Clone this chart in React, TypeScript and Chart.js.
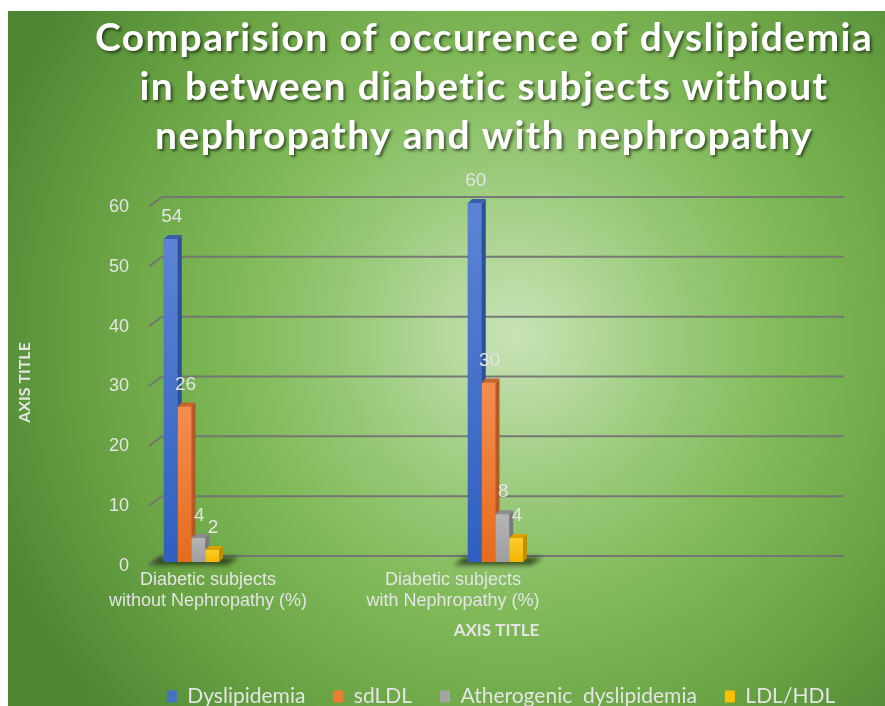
import React, { useEffect, useRef } from 'react';
import { Chart, registerables } from 'chart.js';

Chart.register(...registerables);

// ---- data ----
const TITLE_LINES = [
  'Comparision of occurence of dyslipidemia',
  'in between diabetic subjects without',
  'nephropathy and with nephropathy',
];
const CATEGORY_LABELS = [
  ['Diabetic subjects', 'without Nephropathy (%)'],
  ['Diabetic subjects', 'with Nephropathy (%)'],
];
const SERIES_NAMES = ['Dyslipidemia', 'sdLDL', 'Atherogenic  dyslipidemia', 'LDL/HDL'];
const DYSLIPIDEMIA = [54, 60];
const SDLDL = [26, 30];
const ATHEROGENIC = [4, 8];
const LDL_HDL = [2, 4];
const Y_TICKS = [0, 10, 20, 30, 40, 50, 60];
const X_AXIS_TITLE = 'AXIS TITLE';
const Y_AXIS_TITLE = 'AXIS TITLE';

// ---- styles ----
const BASE_COLORS = ['#4472C4', '#ED7D31', '#A5A5A5', '#FFC000'];
const FRONT_TOP = ['#5d84d4', '#f38d52', '#b5b5b5', '#ffcb2e'];
const FRONT_BOTTOM = ['#2f5fbf', '#e66c1c', '#9e9e9e', '#f2b600'];
const SIDE_COLORS = ['#2d4f98', '#b45a22', '#7a7a7a', '#bd9000'];
const TOP_COLORS = ['#3a5ea8', '#c4652c', '#8c8c8c', '#d6a300'];
const LABEL_COLOR = '#e4e4e4';

const CANVAS_W = 986;
const CANVAS_H = 706;
const DEPTH = 4;

const backgroundPlugin = {
  id: 'bgGradient',
  beforeDraw(chart: any) {
    const { ctx, width, height } = chart;
    ctx.save();
    const g = ctx.createRadialGradient(507, 324, 0, 507, 324, 560);
    g.addColorStop(0, '#c8e3b6');
    g.addColorStop(0.12, '#b6d99e');
    g.addColorStop(0.3, '#99c979');
    g.addColorStop(0.5, '#80b958');
    g.addColorStop(0.7, '#6da747');
    g.addColorStop(0.85, '#5e983d');
    g.addColorStop(1, '#4e8634');
    ctx.fillStyle = g;
    ctx.fillRect(0, 0, width, height);
    ctx.restore();
    const tb = chart.titleBlock;
    if (tb && !tb.__patched) {
      tb.__patched = true;
      const orig = tb.draw.bind(tb);
      tb.draw = (area: any) => {
        const c = chart.ctx;
        c.save();
        c.translate(-17, 0);
        c.letterSpacing = '1.4px';
        c.shadowColor = 'rgba(0,0,0,0.55)';
        c.shadowOffsetX = 2;
        c.shadowOffsetY = 2;
        c.shadowBlur = 3;
        orig(area);
        c.restore();
      };
    }
  },
};

const gridPlugin = {
  id: 'grid3d',
  beforeDatasetsDraw(chart: any) {
    const { ctx, chartArea } = chart;
    const y = chart.scales.y;
    const left = chartArea.left;
    const right = chartArea.right;
    ctx.save();
    ctx.strokeStyle = 'rgba(115,115,115,0.95)';
    ctx.lineWidth = 2;
    Y_TICKS.forEach((v) => {
      const yf = y.getPixelForValue(v);
      ctx.beginPath();
      ctx.moveTo(left, yf + 3.5);
      ctx.lineTo(left + 13, yf - 6);
      ctx.lineTo(right, yf - 6);
      ctx.stroke();
    });
    const metas = chart.getSortedVisibleDatasetMetas();
    const n = CATEGORY_LABELS.length;
    for (let i = 0; i < n; i++) {
      const first = metas[0].data[i].getProps(['x', 'width', 'base'], true);
      const last = metas[metas.length - 1].data[i].getProps(['x', 'width', 'base'], true);
      const x0 = first.x - first.width / 2;
      const x1 = last.x + last.width / 2;
      const b = first.base;
      ctx.save();
      ctx.filter = 'blur(2.5px)';
      ctx.fillStyle = 'rgba(25,40,15,0.75)';
      ctx.beginPath();
      ctx.moveTo(x0 - 14, b + 3);
      ctx.lineTo(x1 + 8, b + 3);
      ctx.lineTo(x1 + 20, b - 5);
      ctx.lineTo(x0 - 4, b - 5);
      ctx.closePath();
      ctx.fill();
      ctx.restore();
    }
    ctx.restore();
  },
};

const bar3dPlugin = {
  id: 'bar3d',
  afterDatasetsDraw(chart: any) {
    const { ctx } = chart;
    const metas = chart.getSortedVisibleDatasetMetas();
    const n = CATEGORY_LABELS.length;
    ctx.save();
    for (let i = 0; i < n; i++) {
      metas.forEach((meta: any) => {
        const d = meta.index;
        const bar = meta.data[i].getProps(['x', 'y', 'base', 'width'], true);
        const x0 = bar.x - bar.width / 2;
        const x1 = bar.x + bar.width / 2;
        const top = bar.y;
        const base = bar.base;
        const g = ctx.createLinearGradient(0, top, 0, base);
        g.addColorStop(0, FRONT_TOP[d]);
        g.addColorStop(1, FRONT_BOTTOM[d]);
        ctx.fillStyle = g;
        ctx.fillRect(x0, top, x1 - x0, base - top);
        ctx.fillStyle = SIDE_COLORS[d];
        ctx.beginPath();
        ctx.moveTo(x1, top);
        ctx.lineTo(x1 + DEPTH, top - DEPTH);
        ctx.lineTo(x1 + DEPTH, base - DEPTH);
        ctx.lineTo(x1, base);
        ctx.closePath();
        ctx.fill();
        ctx.fillStyle = TOP_COLORS[d];
        ctx.beginPath();
        ctx.moveTo(x0, top);
        ctx.lineTo(x1, top);
        ctx.lineTo(x1 + DEPTH, top - DEPTH);
        ctx.lineTo(x0 + DEPTH, top - DEPTH);
        ctx.closePath();
        ctx.fill();
      });
    }
    ctx.fillStyle = LABEL_COLOR;
    ctx.font = '19px "Liberation Sans", Arial, sans-serif';
    ctx.textAlign = 'center';
    ctx.textBaseline = 'middle';
    metas.forEach((meta: any) => {
      const ds = chart.data.datasets[meta.index];
      meta.data.forEach((el: any, i: number) => {
        const p = el.getProps(['x', 'y'], true);
        ctx.fillText(String(ds.data[i]), p.x + 1, p.y - 22);
      });
    });
    ctx.restore();
  },
};

const SERIES = [DYSLIPIDEMIA, SDLDL, ATHEROGENIC, LDL_HDL];

export default function App() {
  const ref = useRef<HTMLCanvasElement>(null);
  useEffect(() => {
    const canvas = ref.current as HTMLCanvasElement;
    const chart = new Chart(canvas, {
      type: 'bar',
      data: {
        labels: CATEGORY_LABELS.map((_, i) => i),
        datasets: SERIES.map((values, d) => ({
          label: SERIES_NAMES[d],
          data: values,
          backgroundColor: BASE_COLORS[d],
          borderWidth: 0,
          barThickness: 13.75,
        })),
      },
      options: {
        responsive: false,
        animation: false,
        events: [],
        layout: { padding: { left: 0, right: 0, top: 0, bottom: 0 } },
        scales: {
          x: {
            type: 'linear',
            display: false,
            offset: false,
            min: -0.1398,
            max: 2.1464,
          },
          x2: {
            type: 'linear',
            position: 'bottom',
            offset: false,
            min: -0.2408,
            max: 2.5959,
            afterBuildTicks: (axis: any) => {
              axis.ticks = CATEGORY_LABELS.map((_, i) => ({ value: i }));
            },
            grid: { display: false, drawTicks: false, offset: false },
            border: { display: false },
            ticks: {
              autoSkip: false,
              maxRotation: 0,
              minRotation: 0,
              padding: 7,
              color: LABEL_COLOR,
              font: { family: '"Liberation Sans", Arial, sans-serif', size: 18, lineHeight: 1.2 },
              callback: (value: any) => CATEGORY_LABELS[Math.round(Number(value))] as any,
            },
            title: {
              display: true,
              text: X_AXIS_TITLE,
              color: LABEL_COLOR,
              font: { family: 'Lato', weight: 'bold', size: 17, lineHeight: 1.2 },
              padding: { top: 1.6, bottom: 16.8 },
            },
          },
          y: {
            type: 'linear',
            position: 'left',
            min: 0,
            max: 60,
            afterBuildTicks: (axis: any) => {
              axis.ticks = Y_TICKS.map((v) => ({ value: v }));
            },
            afterFit: (axis: any) => {
              axis.width = 141;
            },
            grid: { display: false, drawTicks: false },
            border: { display: false },
            ticks: {
              padding: 20,
              labelOffset: 4,
              color: LABEL_COLOR,
              font: { family: '"Liberation Sans", Arial, sans-serif', size: 18 },
            },
            title: {
              display: true,
              text: Y_AXIS_TITLE,
              color: LABEL_COLOR,
              font: { family: 'Lato', weight: 'bold', size: 16, lineHeight: 1.2 },
              padding: { top: 7, bottom: 0 },
            },
          },
          yRight: {
            type: 'linear',
            position: 'right',
            display: true,
            grid: { display: false, drawTicks: false },
            border: { display: false },
            ticks: { display: false },
            afterFit: (axis: any) => {
              axis.width = CANVAS_W - 836;
            },
          },
        },
        plugins: {
          tooltip: { enabled: false },
          title: {
            display: true,
            text: TITLE_LINES,
            color: '#ffffff',
            font: { family: 'Lato', weight: 'bold', size: 39, lineHeight: '49px' },
            padding: { top: 3, bottom: 42 },
          },
          legend: {
            display: true,
            position: 'bottom',
            labels: {
              boxWidth: 10,
              boxHeight: 12,
              padding: 28,
              color: LABEL_COLOR,
              font: { family: 'Lato', size: 21 },
            },
          },
        },
      } as any,
      plugins: [backgroundPlugin, gridPlugin, bar3dPlugin],
    });
    return () => chart.destroy();
  }, []);
  return (
    <div
      style={{
        position: 'fixed',
        left: 8,
        top: 11,
        width: 877,
        height: 695,
        overflow: 'hidden',
      }}
    >
      <canvas
        ref={ref}
        width={CANVAS_W}
        height={CANVAS_H}
        style={{ display: 'block', width: CANVAS_W, height: CANVAS_H }}
      />
    </div>
  );
}
